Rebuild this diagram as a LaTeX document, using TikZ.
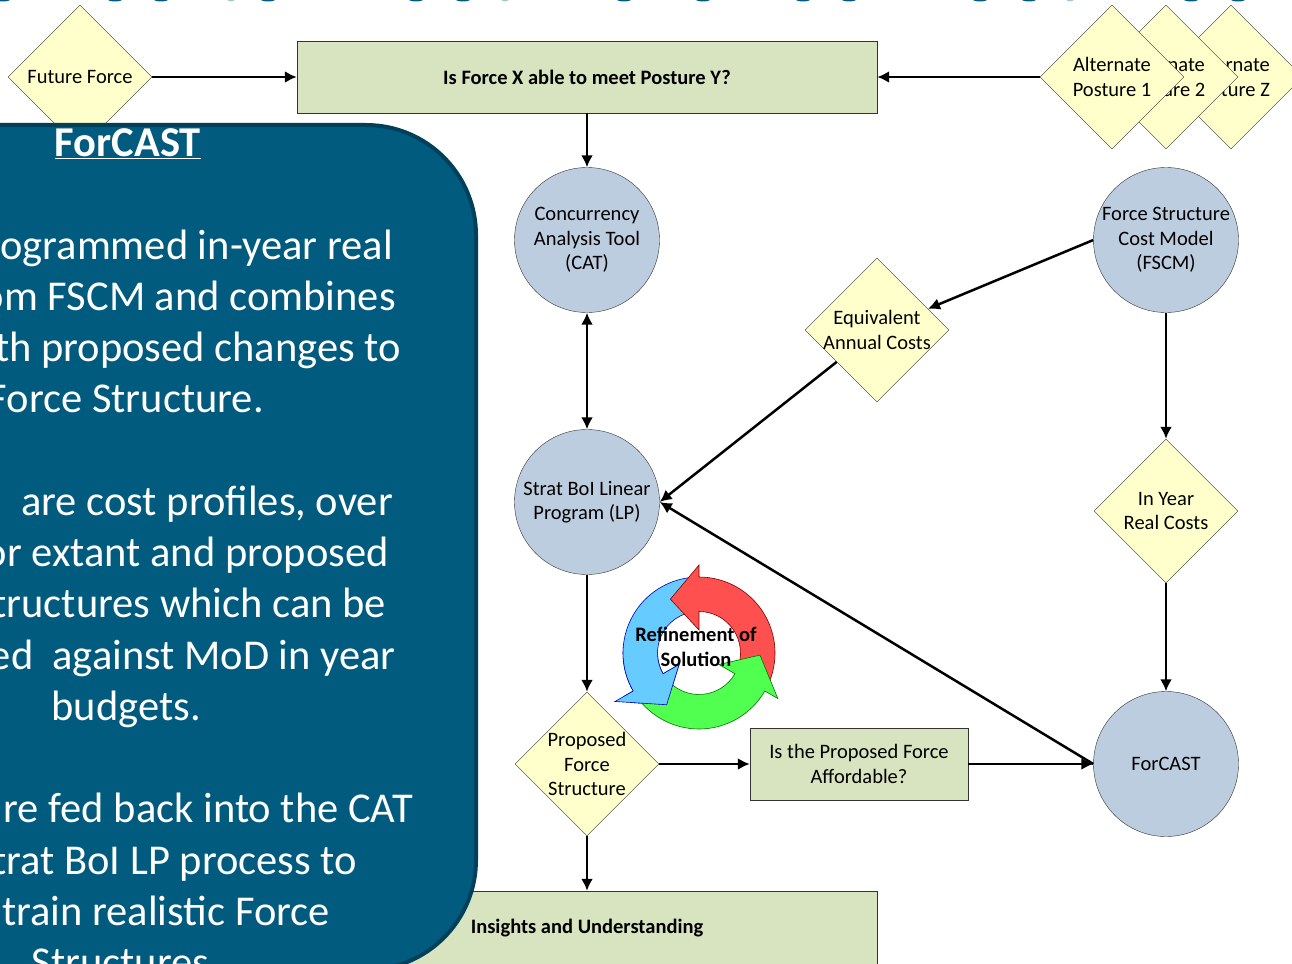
\documentclass[tikz,border=0pt]{standalone}
\usepackage{fontspec}
\setmainfont{Carlito}
\usetikzlibrary{arrows.meta, shapes.geometric}

\definecolor{panelblue}{HTML}{005B7F}
\definecolor{paneledge}{HTML}{00405A}
\definecolor{boxgreen}{HTML}{D8E3BF}
\definecolor{diamondyellow}{HTML}{FFFFCC}
\definecolor{circleblue}{HTML}{BDCDE0}
\definecolor{ringred}{HTML}{FF5050}
\definecolor{ringgreen}{HTML}{50FF50}
\definecolor{ringblue}{HTML}{66CCFF}

\tikzset{
  flowbox/.style={draw=black!80, fill=boxgreen, minimum height=72pt, align=center, font=\fontsize{20.5}{24.5}\selectfont},
  decision/.style={draw=black!80, fill=diamondyellow, diamond, aspect=1, inner sep=-16pt, minimum size=144pt, align=center, font=\fontsize{20.5}{24.5}\selectfont},
  model/.style={draw=black!80, fill=circleblue, circle, inner sep=0pt, minimum size=145pt, align=center, font=\fontsize{20.5}{24.5}\selectfont},
  link/.style={line width=2.5pt, -{Latex[length=12pt,width=12pt]}},
  paneltext/.style={anchor=base east, inner sep=0pt, text=white, font=\fontsize{42.5}{51}\selectfont}
}

% one arrow of the ring, turned by #1, outer wing at radius #4
\newcommand{\ringarrow}[4]{
  \draw [rotate=#1, fill=#2, draw=#3, line width=.6pt]
    (90:76) arc [start angle=90, end angle=-25, radius=76]
    -- (-25:41.5) arc [start angle=-25, end angle=90, radius=41.5]
    -- (90:23) -- (118:61) -- (90:#4) -- cycle;
}

\begin{document}
\begin{tikzpicture}[x=1pt, y=-1pt]
  \useasboundingbox (0,0) rectangle (1292,963);

  % clipped title at the top edge
  \foreach \tx in {3,115,161,268,416,463,624,703,803,849,980,1029,1191,1238}
    \fill [panelblue] (\tx,-1) ellipse [x radius=7.5pt, y radius=2.5pt];
  \foreach \tx in {231,505,1070}
    \fill [panelblue!35] (\tx,-1) ellipse [x radius=4pt, y radius=2.5pt];

  % boxes
  \node [flowbox, minimum width=580pt, font=\fontsize{20.5}{24.5}\selectfont\bfseries] (question) at (587,77) {Is Force X able to meet Posture Y?};
  \node [flowbox, minimum width=580pt, minimum height=74pt, font=\fontsize{20.5}{24.5}\selectfont\bfseries] (insights) at (587,928) {Insights and Understanding};
  \node [flowbox, minimum width=218pt] (affordable) at (859,764) {Is the Proposed Force\\Affordable?};

  % diamonds
  \node [decision] (future) at (80,77) {Future Force};
  \node [decision] (postureZ) at (1231,77) {Alternate\\Posture Z};
  \node [decision] (posture2) at (1166,77) {Alternate\\Posture 2};
  \node [decision] (posture1) at (1112,77) {Alternate\\Posture 1};
  \node [decision] (equivalent) at (877,330) {Equivalent\\Annual Costs};
  \node [decision] (inyear) at (1166,511) {In Year\\Real Costs};
  \node [decision] (proposed) at (587,764) {Proposed\\Force\\Structure};

  % circles
  \node [model] (cat) at (587,240) {Concurrency\\Analysis Tool\\(CAT)};
  \node [model] (strat) at (587,502) {Strat BoI Linear\\Program (LP)};
  \node [model] (fscm) at (1166,240) {Force Structure\\Cost Model\\(FSCM)};
  \node [model] (forcast) at (1166,764) {ForCAST};

  % connectors
  \draw [link] (future) -- (question);
  \draw [link] (posture1) -- (question);
  \draw [link] (question) -- (cat);
  \draw [link, {Latex[length=12pt,width=12pt]}-{Latex[length=12pt,width=12pt]}] (cat) -- (strat);
  \draw [link] (fscm.west) -- (equivalent);
  \draw [link] (equivalent) -- (strat.east);
  \draw [link] (fscm) -- (inyear);
  \draw [link] (inyear) -- (forcast);
  \draw [link] (forcast.west) -- (strat.east);
  \draw [link] (strat) -- (proposed);
  \draw [link] (proposed) -- (affordable);
  \draw [link] (affordable) -- (forcast);
  \draw [link] (proposed) -- (insights);

  % ring of arrows
  \begin{scope}[shift={(699,653)}, x=1pt, y=1pt]
    \ringarrow{120}{ringblue}{blue!70!black}{97}
    \ringarrow{0}{ringred}{red!50!black}{88}
    \ringarrow{-120}{ringgreen}{green!45!black}{91}
    \begin{scope}
      \clip (0,0) -- (175:130) -- (275:130) -- cycle;
      \ringarrow{120}{ringblue}{blue!70!black}{97}
    \end{scope}
  \end{scope}
  \node [align=center, font=\fontsize{20.5}{24.5}\selectfont\bfseries] (refine) at (696,647) {Refinement of\\Solution};

  % panel over the left side
  \draw [fill=panelblue, draw=paneledge, line width=4pt, rounded corners=110pt] (-120,125) rectangle (476,970);
  \node [paneltext, font=\fontsize{42.5}{51}\selectfont\bfseries] (title) at (201,156) {\underline{ForCAST}};
  \node [paneltext] (lineA) at (393,259) {ogrammed in-year real};
  \node [paneltext] (lineB) at (396,310) {om FSCM and combines};
  \node [paneltext] (lineC) at (401,361) {th proposed changes to};
  \node [paneltext] (lineD) at (264,412) {Force Structure.};
  \node [paneltext] (lineE) at (393,515) {are cost profiles, over};
  \node [paneltext] (lineF) at (389,566) {or extant and proposed};
  \node [paneltext] (lineG) at (386,617) {tructures which can be};
  \node [paneltext] (lineH) at (396,669) {ed \ against MoD in year};
  \node [paneltext] (lineI) at (201,720) {budgets.};
  \node [paneltext] (lineJ) at (413,822) {re fed back into the CAT};
  \node [paneltext] (lineK) at (357,874) {trat BoI LP process to};
  \node [paneltext] (lineL) at (330,925) {train realistic Force};
  \node [paneltext] (lineM) at (220,976) {Structures.};
\end{tikzpicture}
\end{document}
